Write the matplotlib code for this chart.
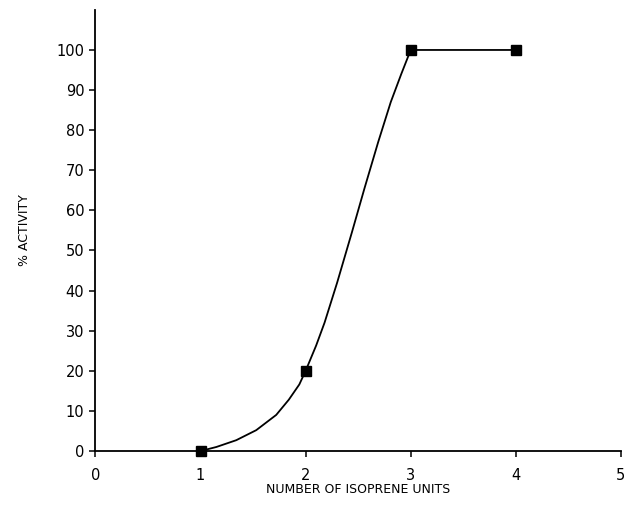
import matplotlib
matplotlib.use("Agg")
import matplotlib.pyplot as plt

# measured points
units = [1, 2, 3, 4]
activity = [0, 20, 100, 100]

# hand-drawn fit curve
curve_x = [1.0, 1.15, 1.34, 1.53, 1.72, 1.84, 1.94, 2.0, 2.1, 2.18, 2.3,
           2.44, 2.56, 2.69, 2.81, 2.91, 3.0, 4.0]
curve_y = [0, 1.0, 2.7, 5.2, 9.0, 12.8, 16.6, 20, 26.3, 32.0, 42.0,
           54.5, 65.5, 77.0, 87.0, 94.0, 100, 100]

xticks = [0, 1, 2, 3, 4, 5]
yticks = list(range(0, 101, 10))

fig = plt.figure(figsize=(6.24, 5.19), dpi=100)
ax = fig.add_axes([0.153, 0.131, 0.842, 0.85])

ax.plot(curve_x, curve_y, color="black", linewidth=1.3, zorder=3)
ax.plot(units, activity, linestyle="none", marker="s", markersize=7.5,
        color="black", zorder=4, clip_on=False)

ax.set_xlim(0, 5)
ax.set_ylim(0, 110)
ax.set_xticks(xticks)
ax.set_yticks(yticks)
ax.spines["top"].set_visible(False)
ax.spines["right"].set_visible(False)
for s in ("left", "bottom"):
    ax.spines[s].set_linewidth(1.3)
ax.tick_params(direction="out", length=4, width=1.1, labelsize=10.5, pad=4)
ax.tick_params(axis="x", pad=8)

ax.set_xlabel("NUMBER OF ISOPRENE UNITS", fontsize=9, labelpad=0)
ax.set_ylabel("% ACTIVITY", fontsize=9, labelpad=18)

plt.savefig("out.png", dpi=100)
plt.close()
